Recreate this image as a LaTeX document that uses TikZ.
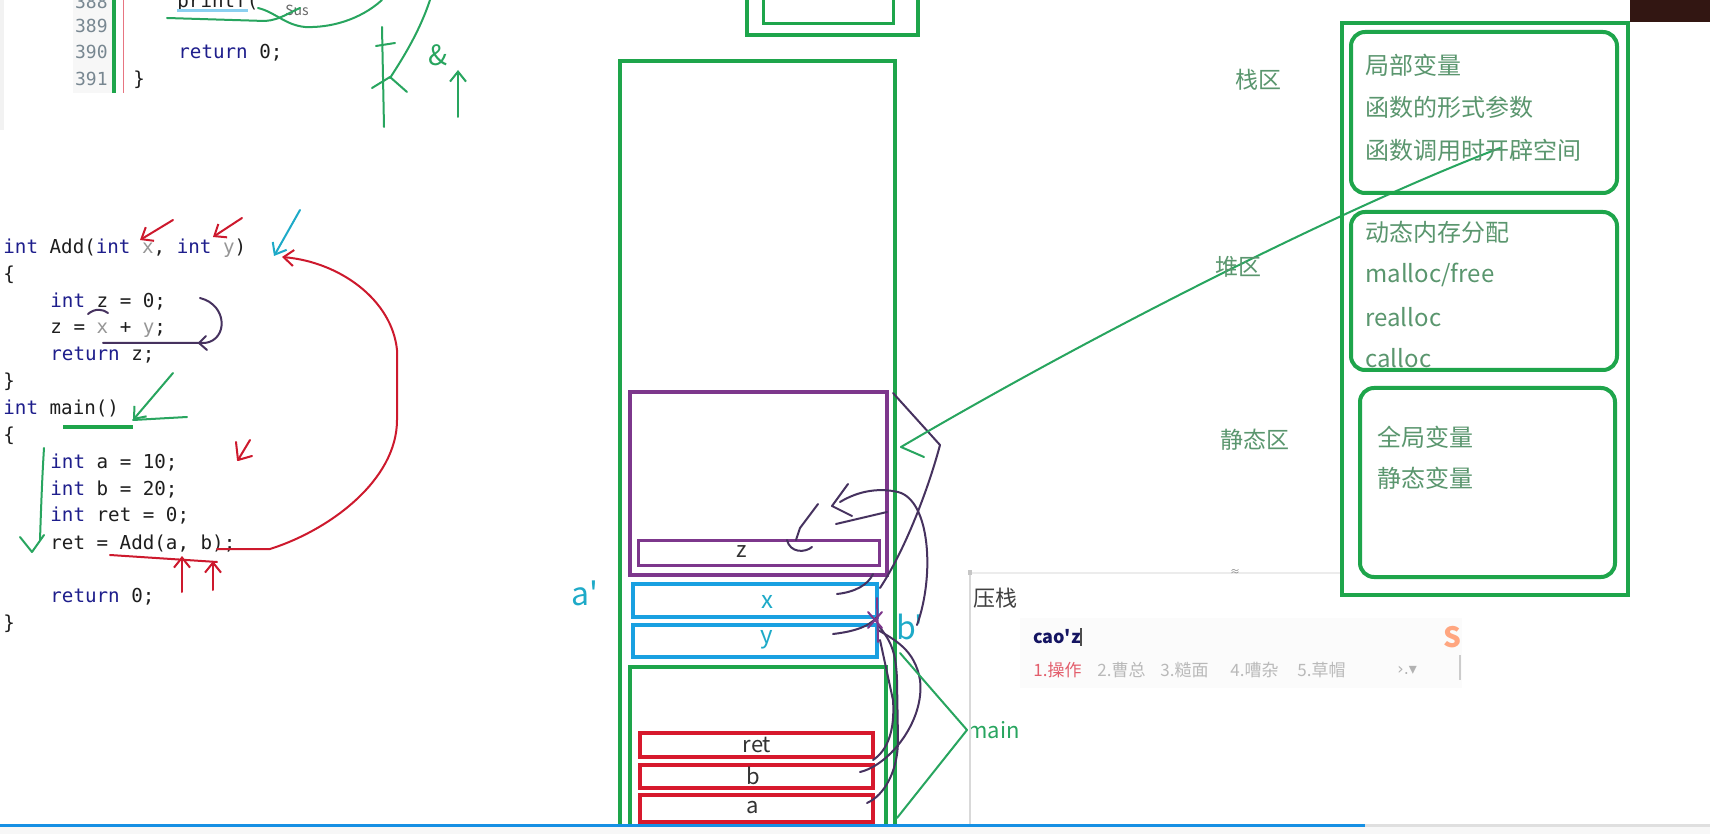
\documentclass[tikz,border=0pt]{standalone}
\usepackage{fontspec}
\usetikzlibrary{arrows.meta}
\newfontfamily\codefont{DejaVu Sans Mono}
\newfontfamily\cjk{Noto Sans CJK SC}
\newfontfamily\symfont{DejaVu Sans}
\definecolor{gbox}{RGB}{30,165,75}
\definecolor{pbox}{RGB}{125,55,140}
\definecolor{cbox}{RGB}{25,160,225}
\definecolor{rbox}{RGB}{215,25,45}
\definecolor{inkp}{RGB}{70,50,95}
\definecolor{inkg}{RGB}{40,165,95}
\definecolor{inkr}{RGB}{205,25,45}
\definecolor{inkc}{RGB}{30,170,200}
\definecolor{pgreen}{RGB}{90,150,110}
\definecolor{kwblue}{RGB}{30,30,140}
\definecolor{codeblack}{RGB}{30,30,30}
\definecolor{varg}{RGB}{150,150,150}
\definecolor{lngray}{RGB}{120,135,145}
\definecolor{camdark}{RGB}{50,22,18}
\newcommand{\kw}[1]{\textcolor{kwblue}{#1}}
\newcommand{\gv}[1]{\textcolor{varg}{#1}}
\tikzset{
  code/.style={anchor=base west, inner sep=0, font=\codefont\fontsize{9.6}{11}\selectfont, text=codeblack},
  lno/.style={anchor=base east, inner sep=0, font=\codefont\fontsize{9}{10}\selectfont, text=lngray},
  ptext/.style={anchor=west, inner sep=0, font=\cjk\fontsize{12}{14}\selectfont, text=pgreen},
  zone/.style={inner sep=0, font=\cjk\fontsize{11.5}{13}\selectfont, text=pgreen},
  boxlbl/.style={inner sep=0, font=\cjk\fontsize{11}{12}\selectfont, text=black!80},
  cand/.style={anchor=west, inner sep=0, font=\cjk\fontsize{8.5}{9}\selectfont, text=gray!55},
  ink/.style={line width=1pt, line cap=round, line join=round},
  barb/.style={-{Straight Barb[length=5pt,width=8pt]}},
  gframe/.style={draw=gbox, line width=2pt},
  rframe/.style={draw=gbox, line width=2pt, rounded corners=7pt},
}
\begin{document}
\begin{tikzpicture}[x=0.5pt,y=-0.5pt]
\useasboundingbox (0,0) rectangle (1710,834);
\clip (0,0) rectangle (1710,834);
\fill[white] (0,0) rectangle (1710,834);

% ---------- top code fragment ----------
\fill[gray!6] (73,0) rectangle (112,93);
\fill[gray!10] (0,0) rectangle (4,130);
\draw[gbox, line width=2pt] (114,0) -- (114,93);
\draw[rbox!60, line width=0.4pt] (123,0) -- (123,93);
\node[lno] (n388) at (108,9) {388};
\node[lno] (n389) at (108,33) {389};
\node[lno] (n390) at (108,59) {390};
\node[lno] (n391) at (108,86) {391};
\node[code] (pf) at (177,8) {printf(};
\draw[cbox!50, line width=1.5pt] (177,11) -- (248,11);
\node[code] (r0) at (178,59) {\kw{return} 0;};
\node[code] (rb) at (133,86) {\}};
\node[inner sep=0, font=\cjk\fontsize{7}{7}\selectfont, text=black!60] (sus) at (297,10) {Sus};
% green scribbles at top
\draw[ink, inkg] (167,18) -- (265,21) .. controls (280,20) and (290,12) .. (300,8);
\draw[ink, inkg] (258,8) .. controls (275,12) and (285,25) .. (305,27) .. controls (330,28) and (360,20) .. (382,0);
\draw[ink, inkg] (382,27) -- (384,127);
\draw[ink, inkg] (376,46) -- (395,43);
\draw[ink, inkg] (430,0) .. controls (420,30) and (405,55) .. (390,78);
\draw[ink, inkg] (372,88) -- (390,77) -- (407,92);
\node[inner sep=0, font=\cjk\fontsize{14}{14}\selectfont, text=inkg] (amp) at (438,55) {\&};
\draw[ink, inkg, barb] (458,117) -- (458,70);

% ---------- main code ----------
\node[code] (L1) at (3,254) {\kw{int} Add(\kw{int} \gv{x}, \kw{int} \gv{y})};
\node[code] (L2) at (3,281) {\{};
\node[code] (L3) at (50,308) {\kw{int} z = 0;};
\node[code] (L4) at (50,334) {z = \gv{x} + \gv{y};};
\node[code] (L5) at (50,361) {\kw{return} z;};
\node[code] (L6) at (3,388) {\}};
\node[code] (L7) at (3,415) {\kw{int} main()};
\node[code] (L8) at (3,442) {\{};
\node[code] (L9) at (50,468) {\kw{int} a = 10;};
\node[code] (L10) at (50,495) {\kw{int} b = 20;};
\node[code] (L11) at (50,522) {\kw{int} ret = 0;};
\node[code] (L12) at (50,549) {ret = Add(a, b);};
\node[code] (L13) at (50,602) {\kw{return} 0;};
\node[code] (L14) at (3,629) {\}};

% red annotations
\draw[ink, inkr, barb] (173,220) -- (140,240);
\draw[ink, inkr, barb] (242,218) -- (213,237);
\draw[ink, inkc, barb] (300,210) -- (274,256);
\draw[ink, inkr, barb] (217,549) -- (270,549) .. controls (330,530) and (397,480) .. (397,420) -- (397,350) .. controls (392,300) and (340,262) .. (282,257);
\draw[ink, inkr] (110,555) -- (217,562);
\draw[ink, inkr, barb] (182,592) -- (182,556);
\draw[ink, inkr, barb] (213,590) -- (213,561);
\draw[ink, inkr] (250,440) -- (238,460) -- (252,456);
\draw[ink, inkr] (236,442) -- (238,460);
% purple annotations
\draw[ink, inkp] (88,314) .. controls (95,308) and (103,309) .. (108,313);
\draw[ink, inkp] (200,298) .. controls (228,305) and (228,340) .. (205,343) -- (103,343);
\draw[ink, inkp] (206,336) -- (199,343) -- (207,350);
% green annotations
\draw[ink, inkg, barb] (173,373) -- (133,420);
\draw[ink, inkg] (187,417) -- (133,420);
\draw[gbox, line width=1.8pt] (63,427) -- (133,427);
\draw[ink, inkg] (44,448) .. controls (42,480) and (41,510) .. (40,540);
\draw[ink, inkg] (20,537) -- (32,552) -- (44,535);

% ---------- stack ----------
\draw[gbox, line width=2pt] (747,-10) -- (747,35) -- (918,35) -- (918,-10);
\draw[gbox, line width=1.5pt] (763,-10) -- (763,24) -- (893,24) -- (893,-10);
\draw[gframe] (620,61) rectangle (895,870);
\draw[pbox, line width=1.8pt] (630,392) rectangle (887,575);
\draw[pbox, line width=1.5pt] (638,540) rectangle (879,565);
\draw[cbox, line width=1.8pt] (633,584) rectangle (877,617);
\draw[cbox, line width=1.8pt] (633,625) rectangle (877,657);
\draw[gframe] (630,667) rectangle (886,870);
\draw[rbox, line width=1.8pt] (640,733) rectangle (873,757);
\draw[rbox, line width=1.8pt] (640,765) rectangle (873,788);
\draw[rbox, line width=1.8pt] (640,795) rectangle (873,822);
\node[boxlbl] (lz) at (742,552) {z};
\node[boxlbl] (lret) at (757,745) {ret};
\node[boxlbl] (lb) at (753,776) {b};
\node[boxlbl] (la) at (753,808) {a};
\node[inner sep=0, font=\cjk\itshape\fontsize{12}{12}\selectfont, text=inkc] (lx) at (767,602) {x};
\node[inner sep=0, font=\cjk\itshape\fontsize{12}{12}\selectfont, text=inkc] (ly) at (767,640) {y};
\node[inner sep=0, font=\cjk\fontsize{16}{16}\selectfont, text=inkc] (aprime) at (585,593) {a'};
\node[inner sep=0, font=\cjk\fontsize{16}{16}\selectfont, text=inkc] (bprime) at (910,627) {b'};

% dark ink scribbles around stack
\draw[ink, inkp] (893,393) -- (940,445) .. controls (928,490) and (905,550) .. (880,588);
\draw[ink, inkp] (840,502) .. controls (860,490) and (880,488) .. (898,492) .. controls (930,500) and (935,575) .. (917,625);
\draw[ink, inkp] (848,484) -- (832,506) -- (852,516);
\draw[ink, inkp] (887,512) -- (836,524);
\draw[ink, inkp] (818,504) -- (800,528) -- (796,540);
\draw[ink, inkp] (787,540) .. controls (790,553) and (805,553) .. (812,547);
\draw[ink, inkp] (837,594) .. controls (855,592) and (868,585) .. (873,574);
\draw[ink, inkp] (833,634) .. controls (850,632) and (868,628) .. (877,617);
\draw[ink, inkp] (860,772) .. controls (890,765) and (925,720) .. (920,680) .. controls (915,650) and (895,640) .. (878,630);
\draw[ink, inkp] (867,803) .. controls (885,795) and (898,770) .. (898,740) -- (897,680) .. controls (896,650) and (890,640) .. (878,625);
\draw[ink, inkp] (873,760) .. controls (888,750) and (895,730) .. (893,700) -- (880,640);
\draw[ink, pbox] (868,612) -- (882,628);
\draw[ink, pbox] (868,628) -- (882,612);
\draw[ink, pbox] (877,598) -- (878,642);

% long green arrow from panel
\draw[ink, inkg] (1500,148) .. controls (1350,205) and (1100,330) .. (901,447);
\draw[ink, inkg] (901,447) -- (924,457);
% main label lines
\node[anchor=west, inner sep=0, font=\cjk\fontsize{11}{12}\selectfont, text=inkg] (lmain) at (967,730) {main};
\draw[ink, inkg] (lmain.west) -- (900,653);
\draw[ink, inkg] (lmain.west) -- (897,818);

% ---------- popup / IME ----------
\draw[gray!30, line width=0.6pt] (970,572) -- (970,834);
\draw[gray!15, line width=0.6pt] (970,573) -- (1340,573);
\fill[gray!45] (968,570) rectangle (972,575);
\node[inner sep=0, font=\cjk\fontsize{5}{5}\selectfont, text=gray] (wave) at (1235,573) {≈};
\node[anchor=west, inner sep=0, font=\cjk\fontsize{11}{12}\selectfont, text=black!75] (yazhan) at (973,598) {压栈};
\fill[gray!3] (1020,618) rectangle (1462,688);
\node[anchor=west, inner sep=0, font=\cjk\bfseries\fontsize{9}{10}\selectfont, text=kwblue!70!black] (ime) at (1033,637) {cao'z};
\draw[black!70, line width=0.6pt] (1081,628) -- (1081,646);
\node[cand, text=rbox!70] (c1) at (1033,670) {1.操作};
\node[cand] (c2) at (1097,670) {2.曹总};
\node[cand] (c3) at (1160,670) {3.糙面};
\node[cand] (c4) at (1230,670) {4.嘈杂};
\node[cand] (c5) at (1297,670) {5.草帽};
\node[anchor=west, inner sep=0, font=\symfont\fontsize{8}{9}\selectfont, text=gray!60] (cnext) at (1397,670) {›.▾};
\node[inner sep=0, font=\cjk\bfseries\fontsize{14}{14}\selectfont, text=orange!60!red!50] (slogo) at (1452,637) {S};
\draw[gray!40, line width=0.6pt] (1460,655) -- (1460,680);

% ---------- right panel ----------
\draw[gframe] (1342,23) rectangle (1628,595);
\draw[rframe] (1351,32) rectangle (1617,193);
\draw[rframe] (1351,212) rectangle (1617,370);
\draw[rframe] (1360,388) rectangle (1615,577);
\node[ptext] (t1) at (1365,65) {局部变量};
\node[ptext] (t2) at (1365,107) {函数的形式参数};
\node[ptext] (t3) at (1365,150) {函数调用时开辟空间};
\node[ptext] (t4) at (1365,232) {动态内存分配};
\node[ptext] (t5) at (1365,275) {malloc/free};
\node[ptext] (t6) at (1365,317) {realloc};
\node[ptext] (t7) at (1365,358) {calloc};
\node[ptext] (t8) at (1377,437) {全局变量};
\node[ptext] (t9) at (1377,478) {静态变量};
\node[zone] (z1) at (1258,80) {栈区};
\node[zone] (z2) at (1238,267) {堆区};
\node[zone] (z3) at (1255,440) {静态区};

% webcam corner
\fill[camdark] (1630,0) rectangle (1710,22);

% progress bar
\fill[gray!6] (0,826) rectangle (1710,834);
\draw[gray!25, line width=1.5pt] (1365,825) -- (1710,825);
\draw[cbox!90!blue, line width=1.5pt] (0,825) -- (1365,825);
\end{tikzpicture}
\end{document}
